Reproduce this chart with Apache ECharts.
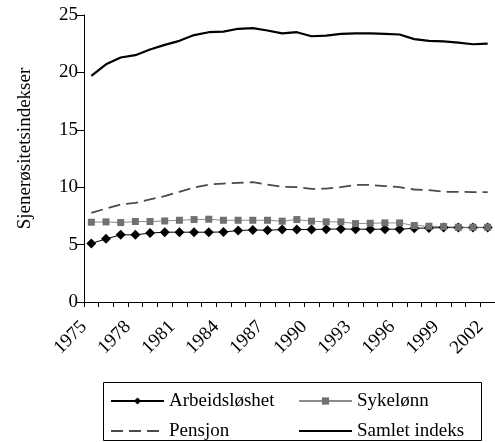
<!DOCTYPE html>
<html><head><meta charset="utf-8">
<script src="https://cdn.jsdelivr.net/npm/echarts@6/dist/echarts.min.js"></script>
<style>html,body{margin:0;padding:0;background:#fff}#c{width:495px;height:442px}</style>
</head><body><div id="c"></div>
<script>
const years = ['1975','1976','1977','1978','1979','1980','1981','1982','1983','1984','1985','1986','1987','1988','1989','1990','1991','1992','1993','1994','1995','1996','1997','1998','1999','2000','2001','2002'];
const boundaryLabels = years.concat(['2003']);
const yMin = 0, yMax = 25, yStep = 5;
const arbeidsloshet = [5.1,5.5,5.85,5.85,6.0,6.08,6.08,6.08,6.08,6.1,6.22,6.28,6.25,6.31,6.31,6.31,6.34,6.36,6.34,6.34,6.34,6.34,6.42,6.45,6.48,6.48,6.48,6.48];
const sykelonn = [6.95,6.98,6.92,7.01,7.01,7.06,7.12,7.18,7.21,7.12,7.12,7.12,7.12,7.04,7.18,7.04,6.98,6.98,6.83,6.86,6.89,6.89,6.66,6.6,6.57,6.51,6.51,6.51];
const pensjon = [7.76,8.14,8.49,8.63,8.93,9.22,9.6,9.97,10.23,10.32,10.38,10.44,10.23,10.03,10.0,9.85,9.88,10.0,10.2,10.2,10.1,10.0,9.8,9.74,9.6,9.6,9.57,9.57];
const samlet = [19.7,20.7,21.3,21.5,22.0,22.4,22.75,23.25,23.5,23.55,23.8,23.85,23.65,23.4,23.5,23.15,23.2,23.35,23.4,23.4,23.35,23.3,22.9,22.75,22.7,22.6,22.45,22.5];

const FONT = 'Liberation Serif';
const chart = echarts.init(document.getElementById('c'), null, {renderer: 'canvas'});
const legendText = {fontFamily: FONT, fontSize: 19, color: '#000', lineHeight: 20};
const legendBase = {orient: 'vertical', top: 391, height: 80, itemWidth: 53, itemHeight: 9, itemGap: 10, textStyle: legendText, selectedMode: false, padding: 0};
chart.setOption({
  animation: false,
  backgroundColor: '#fff',
  grid: {left: 84, right: -7, top: 15, bottom: 140, containLabel: false},
  xAxis: [
    {type: 'category', data: years, boundaryGap: true, axisLine: {show: false}, axisTick: {show: false}, axisLabel: {show: false}, splitLine: {show: false}},
    {type: 'category', data: boundaryLabels, boundaryGap: false, position: 'bottom', offset: 0,
     axisLine: {show: true, lineStyle: {color: '#000', width: 1}},
     axisTick: {show: true, interval: 0, length: 5, lineStyle: {color: '#000'}},
     axisLabel: {interval: 2, rotate: 45, margin: 22, fontFamily: FONT, fontSize: 19, color: '#000'},
     splitLine: {show: false}}
  ],
  yAxis: {type: 'value', min: yMin, max: yMax, interval: yStep,
    name: 'Sjenerøsitetsindekser', nameLocation: 'middle', nameGap: 49,
    nameTextStyle: {fontFamily: FONT, fontSize: 19, color: '#000', padding: [0, 0, 0, 20]},
    axisLine: {show: true, lineStyle: {color: '#000', width: 1}},
    axisTick: {show: true, length: 7, lineStyle: {color: '#000'}},
    axisLabel: {margin: 6, fontFamily: FONT, fontSize: 19, color: '#000'},
    splitLine: {show: false}},
  legend: [
    Object.assign({}, legendBase, {left: 110,
     data: ['Arbeidsløshet', {name: 'Pensjon', itemStyle: {opacity: 0}}]}),
    Object.assign({}, legendBase, {left: 298,
     data: ['Sykelønn', {name: 'Samlet indeks', itemStyle: {opacity: 0}}]})
  ],
  graphic: [{type: 'rect', shape: {x: 103.5, y: 382.5, width: 378, height: 58}, style: {fill: 'none', stroke: '#000', lineWidth: 1}, silent: true}],
  series: [
    {name: 'Pensjon', type: 'line', data: pensjon, symbol: 'none', lineStyle: {color: '#4a4a4a', width: 1.8, type: [12, 6]}, itemStyle: {color: '#4a4a4a'}},
    {name: 'Samlet indeks', type: 'line', data: samlet, symbol: 'none', lineStyle: {color: '#000', width: 2.2}, itemStyle: {color: '#000'}},
    {name: 'Arbeidsløshet', type: 'line', data: arbeidsloshet, symbol: 'diamond', symbolSize: 10, showSymbol: true, showAllSymbol: true, lineStyle: {color: '#000', width: 1}, itemStyle: {color: '#000'}},
    {name: 'Sykelønn', type: 'line', data: sykelonn, symbol: 'rect', symbolSize: 7, showAllSymbol: true, lineStyle: {color: '#8c8c8c', width: 1}, itemStyle: {color: '#707070'}}
  ]
});
</script>
</body></html>
